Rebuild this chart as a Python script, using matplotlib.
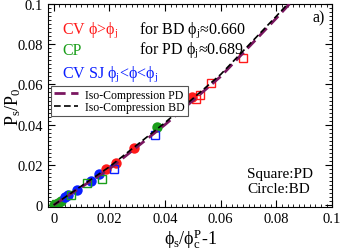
import matplotlib
matplotlib.use('Agg')
import matplotlib.pyplot as plt
from matplotlib.ticker import MultipleLocator

plt.rcParams['font.family'] = ['Liberation Serif', 'DejaVu Serif']
plt.rcParams['mathtext.fontset'] = 'custom'
plt.rcParams['mathtext.rm'] = 'Liberation Serif'
plt.rcParams['mathtext.it'] = 'Liberation Serif'
plt.rcParams['mathtext.bf'] = 'Liberation Serif:bold'
plt.rcParams['mathtext.fallback'] = 'stix'

# iso-compression curves
iso_x = [0.0, 0.02, 0.04, 0.06, 0.08, 0.09]
iso_pd_y = [0.0, 0.018, 0.040, 0.064, 0.093, 0.108]
iso_bd_y = [0.0, 0.019, 0.041, 0.065, 0.094, 0.109]

# BD (circles)
cp_bd_x = [0.0, 0.0015, 0.0025, 0.0372]
cp_bd_y = [0.0, 0.001, 0.002, 0.039]
sj_bd_x = [0.004, 0.005, 0.0085, 0.0134, 0.0163]
sj_bd_y = [0.004, 0.005, 0.0073, 0.0122, 0.0156]
cv_bd_x = [0.0188, 0.0223, 0.029, 0.0496]
cv_bd_y = [0.018, 0.021, 0.0283, 0.0537]

# PD (squares)
cp_pd_x = [0.001, 0.0064, 0.012, 0.0173]
cp_pd_y = [0.0005, 0.005, 0.011, 0.013]
sj_pd_x = [0.0216, 0.0365]
sj_pd_y = [0.018, 0.035]
cv_pd_x = [0.051, 0.0527, 0.0566, 0.068]
cv_pd_y = [0.0527, 0.0546, 0.0605, 0.073]

fig = plt.figure(figsize=(3.41, 2.51), dpi=100)
ax = fig.add_axes([0.141, 0.171, 0.833, 0.809])

purple = '#7a1660'
ax.plot(iso_x, iso_pd_y, '--', color=purple, lw=2.0, dashes=(4, 2), label='Iso-Compression PD', zorder=3)
ax.plot(iso_x, iso_bd_y, '--', color='black', lw=1.2, dashes=(4, 2), label='Iso-Compression BD', zorder=3)

ms_c = 7.5
ms_s = 6
ax.plot(cp_bd_x, cp_bd_y, 'o', color='#1a9e1a', ms=ms_c, mec='none', zorder=2)
ax.plot(sj_bd_x, sj_bd_y, 'o', color='#0a1eff', ms=ms_c, mec='none', zorder=2)
ax.plot(cv_bd_x, cv_bd_y, 'o', color='#ff1a1a', ms=ms_c, mec='none', zorder=2)
ax.plot(cp_pd_x, cp_pd_y, 's', mfc='none', mec='#1a9e1a', ms=ms_s, mew=1.0, zorder=2)
ax.plot(sj_pd_x, sj_pd_y, 's', mfc='none', mec='#0a1eff', ms=ms_s, mew=1.0, zorder=2)
ax.plot(cv_pd_x, cv_pd_y, 's', mfc='none', mec='#ff1a1a', ms=ms_s, mew=1.0, zorder=2)

ax.set_xlim(-0.002, 0.1)
ax.set_ylim(-0.001, 0.1)
ax.xaxis.set_major_locator(MultipleLocator(0.02))
ax.yaxis.set_major_locator(MultipleLocator(0.02))
ax.xaxis.set_minor_locator(MultipleLocator(0.002))
ax.yaxis.set_minor_locator(MultipleLocator(0.002))
fmt = plt.FuncFormatter(lambda v, p: '0' if abs(v) < 1e-9 else ('%g' % v))
ax.xaxis.set_major_formatter(fmt)
ax.yaxis.set_major_formatter(fmt)
ax.tick_params(which='both', direction='in', top=True, right=True, labelsize=10.5)
ax.tick_params(which='major', length=5)
ax.tick_params(which='minor', length=2.5)

ax.set_xlabel(r'$\mathrm{ϕ_s/ϕ^P_c}$-1', fontsize=13, labelpad=1)
ax.set_ylabel(r'$\mathrm{P_s/P_0}$', fontsize=13)
ax.yaxis.set_label_coords(-0.09, 0.5)

fs = 11.5
ax.text(0.049, 0.857, r'CV $ϕ$>$ϕ_j$', color='#ff1a1a', fontsize=fs, transform=ax.transAxes)
ax.text(0.049, 0.754, 'CP', color='#1a9e1a', fontsize=fs, transform=ax.transAxes)
ax.text(0.049, 0.645, r'CV SJ $ϕ_j$<$ϕ$<$ϕ_j$', color='#0a1eff', fontsize=fs, transform=ax.transAxes)
ax.text(0.32, 0.857, r'for BD $ϕ_j$≈0.660', color='black', fontsize=fs, transform=ax.transAxes)
ax.text(0.32, 0.763, r'for PD $ϕ_j$≈0.689', color='black', fontsize=fs, transform=ax.transAxes)
ax.text(0.93, 0.916, 'a)', fontsize=fs, transform=ax.transAxes)
ax.text(0.70, 0.148, 'Square:PD', fontsize=11, transform=ax.transAxes)
ax.text(0.70, 0.072, 'Circle:BD', fontsize=11, transform=ax.transAxes)

leg = ax.legend(loc='upper left', bbox_to_anchor=(0.012, 0.598), fontsize=8.5, fancybox=False,
                framealpha=1, edgecolor='#555555', handlelength=2.0, borderpad=0.25,
                labelspacing=0.05, handletextpad=0.6, borderaxespad=0)
leg.get_frame().set_linewidth(0.8)
leg.set_zorder(5)

fig.savefig('out.png', dpi=100)
